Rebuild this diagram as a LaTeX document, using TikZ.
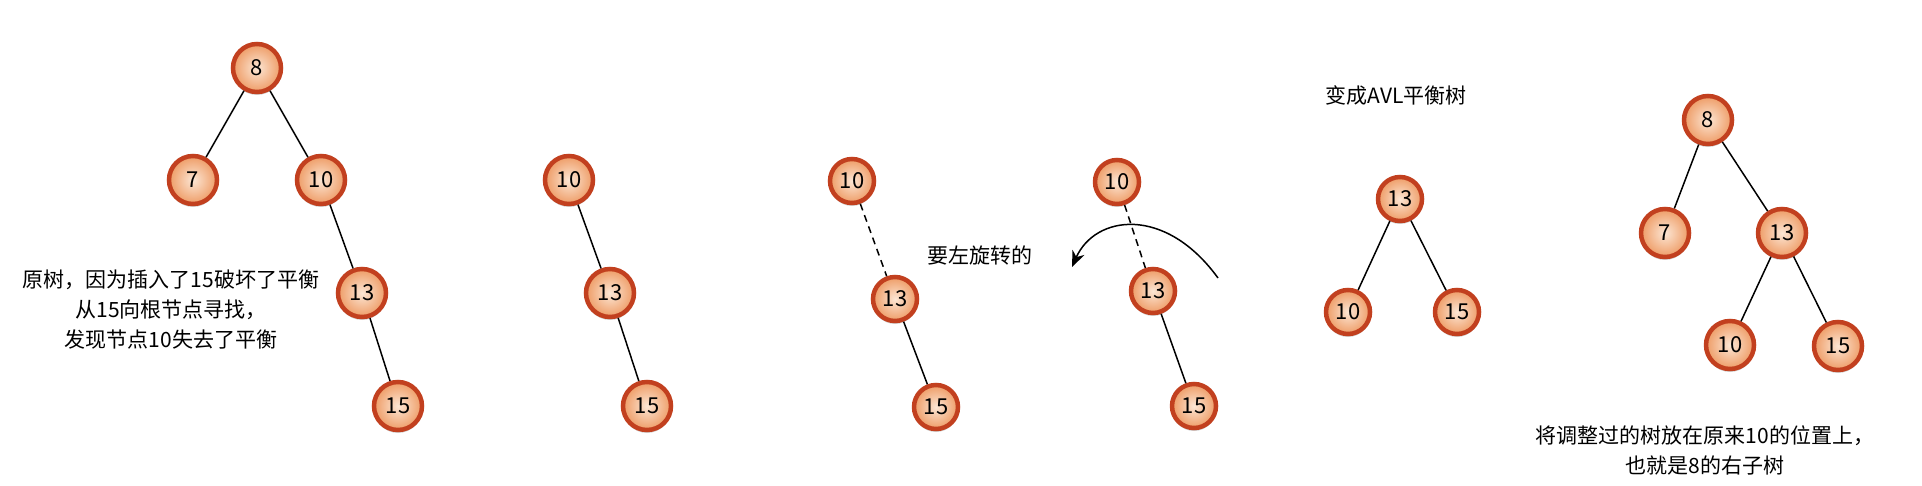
\documentclass[tikz,border=0pt]{standalone}
\usepackage{fontspec}
\setmainfont{Noto Sans CJK SC}
\usepackage{xcolor}
\usepackage{tikz}
\usetikzlibrary{shadows,arrows.meta}

\definecolor{ringred}{HTML}{C2401F}
\definecolor{peachin}{HTML}{FCE6D4}
\definecolor{peachout}{HTML}{EE9C66}

\tikzset{
  avl/.style={circle,draw=ringred,line width=4.5pt,minimum size=48pt,inner sep=0pt,
    inner color=peachin,outer color=peachout,
    drop shadow={opacity=0.35,shadow xshift=0pt,shadow yshift=-3pt},
    font=\fontsize{22}{22}\selectfont},
  avlsm/.style={avl,minimum size=44pt},
  edge/.style={line width=1.5pt},
  cut/.style={edge,dash pattern=on 7pt off 5pt},
  note/.style={align=center,font=\fontsize{21}{30}\selectfont}
}

\begin{document}
\begin{tikzpicture}[x=1pt,y=-1pt]
\useasboundingbox (0,0) rectangle (1922,486);
%原树
\node[avl] (a8) at (257,68) {8};
\node[avl] (a7) at (193,180) {7};
\node[avl] (a10) at (321,180) {10};
\node[avl] (a13) at (362,293) {13};
\node[avl] (a15) at (398,406) {15};
\draw[edge] (a8) -- (a7);
\draw[edge] (a8) -- (a10);
\draw[edge] (a10) -- (a13);
\draw[edge] (a13) -- (a15);
%失衡子树
\node[avl] (b10) at (569,180) {10};
\node[avl] (b13) at (610,293) {13};
\node[avl] (b15) at (647,406) {15};
\draw[edge] (b10) -- (b13);
\draw[edge] (b13) -- (b15);
%左旋
\node[avlsm] (c10) at (852,181) {10};
\node[avlsm] (c13) at (895,299) {13};
\node[avlsm] (c15) at (936,407) {15};
\draw[cut] (c10) -- (c13);
\draw[edge] (c13) -- (c15);
\node[avlsm] (d10) at (1117,182) {10};
\node[avlsm] (d13) at (1153,291) {13};
\node[avlsm] (d15) at (1194,406) {15};
\draw[cut] (d10) -- (d13);
\draw[edge] (d13) -- (d15);
\coordinate (rs) at (1218,278);
\coordinate (re) at (1072,267);
\draw[edge,-{Stealth[length=16pt,width=13pt]}] (rs) .. controls (1165,205) and (1095,215) .. (re);
%AVL
\node[avlsm] (e13) at (1400,199) {13};
\node[avlsm] (e10) at (1348,312) {10};
\node[avlsm] (e15) at (1457,312) {15};
\draw[edge] (e13) -- (e10);
\draw[edge] (e13) -- (e15);
%结果
\node[avl] (f8) at (1708,120) {8};
\node[avl] (f7) at (1665,233) {7};
\node[avl] (f13) at (1782,233) {13};
\node[avl] (f10) at (1730,345) {10};
\node[avl] (f15) at (1838,346) {15};
\draw[edge] (f8) -- (f7);
\draw[edge] (f8) -- (f13);
\draw[edge] (f13) -- (f10);
\draw[edge] (f13) -- (f15);
%Text
\node[note] (t1) at (171,310) {原树，因为插入了15破坏了平衡\\从15向根节点寻找，\\发现节点10失去了平衡};
\node[note] (t2) at (980,255) {要左旋转的};
\node[note] (t3) at (1396,96) {变成AVL平衡树};
\node[note] (t4) at (1705,450) {将调整过的树放在原来10的位置上，\\也就是8的右子树};
\end{tikzpicture}
\end{document}
